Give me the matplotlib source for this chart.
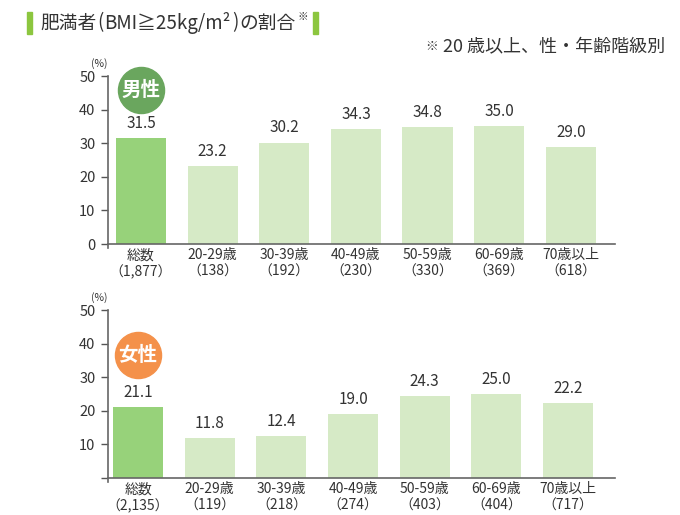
import matplotlib.pyplot as plt
import matplotlib.patches as mpatches

plt.rcParams['font.family'] = ['Noto Sans CJK JP', 'DejaVu Sans']

categories = ["総数", "20-29歳", "30-39歳", "40-49歳", "50-59歳", "60-69歳", "70歳以上"]
male_n = ["1,877", "138", "192", "230", "330", "369", "618"]
female_n = ["2,135", "119", "218", "274", "403", "404", "717"]
male_values = [31.5, 23.2, 30.2, 34.3, 34.8, 35.0, 29.0]
female_values = [21.1, 11.8, 12.4, 19.0, 24.3, 25.0, 22.2]

text_color = "#333333"
dark_green = "#97d27a"
light_green = "#d6eac6"
title_green = "#8cc63f"

fig = plt.figure(figsize=(6.8, 5.15), dpi=100)


def draw_panel(ax, values, counts, badge, badge_color, badge_y, show_zero, xlim):
    x = range(len(values))
    colors = [dark_green] + [light_green] * (len(values) - 1)
    ax.bar(x, values, width=0.7, color=colors, zorder=2)
    for i, v in enumerate(values):
        ax.text(i, v + 1.8, "{:.1f}".format(v), ha="center", va="bottom",
                fontsize=11, color=text_color)
    ax.set_xlim(*xlim)
    ax.set_ylim(0, 50)
    ax.set_yticks([0, 10, 20, 30, 40, 50])
    if not show_zero:
        ax.set_yticklabels(["", "10", "20", "30", "40", "50"])
    ax.set_xticks(list(x))
    ax.set_xticklabels(["{}\n（{}）".format(c, n) for c, n in zip(categories, counts)],
                       fontsize=10, color=text_color, linespacing=1.25)
    ax.tick_params(axis="x", length=0, pad=3)
    ax.tick_params(axis="y", length=5, width=1, color="#555555",
                   labelsize=10.5, labelcolor=text_color, pad=4)
    for s in ["top", "right"]:
        ax.spines[s].set_visible(False)
    for s in ["left", "bottom"]:
        ax.spines[s].set_color("#666666")
        ax.spines[s].set_linewidth(1.2)
    ax.spines["left"].set_bounds(-1.3, 50)
    ax.text(-0.0, 1.04, "(%)", transform=ax.transAxes, ha="right", va="bottom",
            fontsize=7.5, color=text_color)
    ax.scatter([0], [badge_y], s=1100, color=badge_color, clip_on=False, zorder=3)
    ax.text(0, badge_y, badge, ha="center", va="center", fontsize=14,
            fontweight="bold", color="white", zorder=4)


ax1 = fig.add_axes([0.1588, 0.5262, 0.745, 0.3262])
draw_panel(ax1, male_values, male_n, "男性", "#6aa65e", 45.8, True, (-0.46, 6.61))

ax2 = fig.add_axes([0.1588, 0.0718, 0.745, 0.3262])
draw_panel(ax2, female_values, female_n, "女性", "#f4914a", 36.5, False, (-0.42, 6.65))

# title, laid out piece by piece
renderer = fig.canvas.get_renderer()
title_parts = ["肥満者", "(", "BMI≧25kg/m²", ")", "の割合"]
x_px = 40
for part in title_parts:
    t = fig.text(x_px / 680, 1 - 23 / 515, part, ha="left", va="center",
                 fontsize=13.5, color=text_color)
    x_px += t.get_window_extent(renderer).width + 1
mark = fig.text((x_px + 1) / 680, 1 - 17 / 515, "※", ha="left", va="center",
                fontsize=7.5, color=text_color)
x_px += mark.get_window_extent(renderer).width + 6
fig.patches.append(mpatches.Rectangle((27 / 680, 1 - 34 / 515), 5 / 680, 22 / 515,
                                      transform=fig.transFigure, color=title_green))
fig.patches.append(mpatches.Rectangle((x_px / 680, 1 - 34 / 515), 5 / 680, 22 / 515,
                                      transform=fig.transFigure, color=title_green))

fig.text(665 / 680, 1 - 46 / 515, "20 歳以上、性・年齢階級別", ha="right", va="center",
         fontsize=13, color=text_color)
fig.text(438 / 680, 1 - 46 / 515, "※", ha="right", va="center",
         fontsize=9, color=text_color)

fig.savefig("out.png", dpi=100)
